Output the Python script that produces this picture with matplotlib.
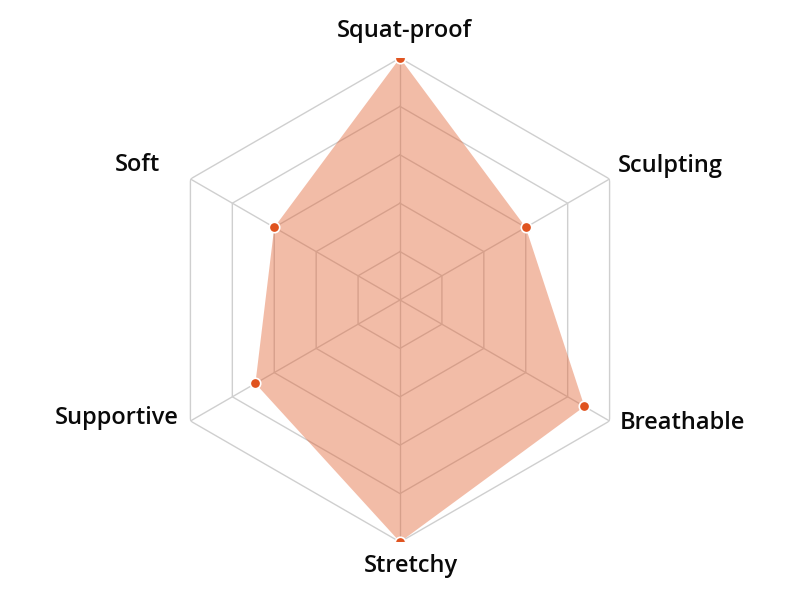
import numpy as np
import matplotlib.pyplot as plt

labels = ["Squat-proof", "Sculpting", "Breathable", "Stretchy", "Supportive", "Soft"]
values = [100, 60, 88, 100, 69, 60]
rings = [20, 40, 60, 80, 100]

# label placement (offset in pixels from outer vertex, alignment)
label_offsets = [(4, 21), (8, 7), (10, -8), (11, -30), (-12, -3), (-30, 8)]
label_ha = ["center", "left", "left", "center", "right", "right"]

plt.rcParams['font.family'] = ['Open Sans', 'DejaVu Sans']

fig = plt.figure(figsize=(8, 6), dpi=100)
ax = fig.add_axes([0.5 - 0.3025, 0.5 - 0.40333, 0.605, 0.80667], projection='polar')
ax.set_theta_offset(np.pi / 2)
ax.set_theta_direction(-1)

n = len(labels)
angles = np.linspace(0, 2 * np.pi, n, endpoint=False)
closed = np.append(angles, angles[0])

ax.grid(False)
ax.spines['polar'].set_visible(False)
ax.set_xticks([])
ax.set_yticks([])
ax.set_ylim(0, 100)

grid_col = "#cfcfcf"
for r in rings:
    ax.plot(closed, [r] * (n + 1), color=grid_col, lw=1, zorder=1)
for a in angles:
    ax.plot([a, a], [0, 100], color=grid_col, lw=1, zorder=1)

vals = np.append(values, values[0])
ax.fill(closed, vals, color="#e2602f", alpha=0.42, lw=0, zorder=2)
ax.plot(angles, values, 'o', color="#e0531f", ms=7.5, mec="white", mew=1.2, zorder=3)

for a, lab, off, ha in zip(angles, labels, label_offsets, label_ha):
    ax.annotate(lab, xy=(a, 100), xytext=off, textcoords='offset pixels',
                ha=ha, va='baseline', fontsize=17, fontweight='semibold',
                color="#0a0a0a", annotation_clip=False)

fig.savefig("out.png", dpi=100, facecolor="white")
